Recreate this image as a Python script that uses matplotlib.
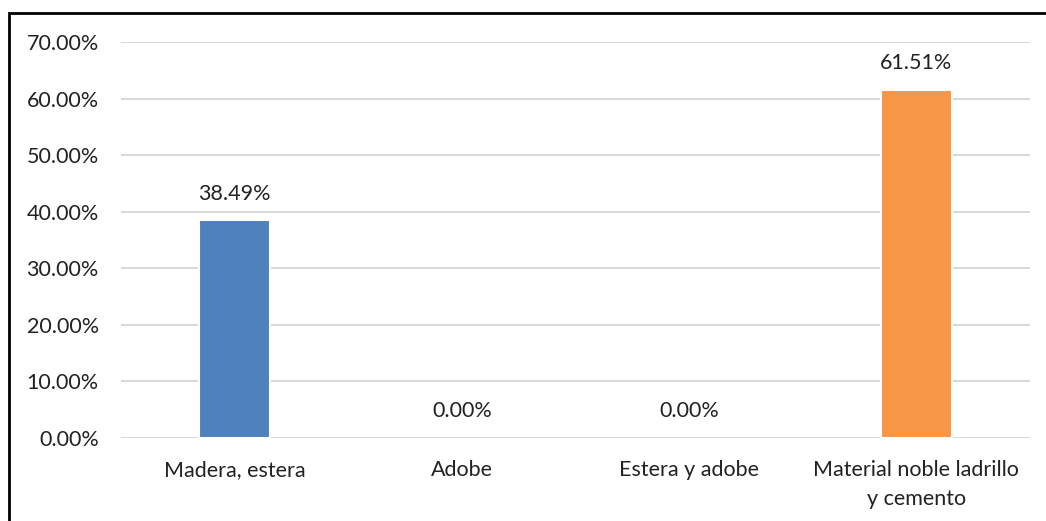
import matplotlib.pyplot as plt
from matplotlib.patches import Rectangle
from matplotlib.ticker import FuncFormatter

categorias = ["Madera, estera", "Adobe", "Estera y adobe", "Material noble ladrillo\ny cemento"]
porcentajes = [38.49, 0.00, 0.00, 61.51]
colores = ["#4F81BD", "#4F81BD", "#4F81BD", "#F79646"]

plt.rcParams['font.family'] = ['Lato', 'DejaVu Sans']

fig = plt.figure(figsize=(10.46, 5.21), dpi=100)
ax = fig.add_axes([121 / 1046, 1 - 438 / 521, (1030 - 121) / 1046, (438 - 42) / 521])

x = range(len(categorias))
bars = ax.bar(x, porcentajes, width=0.31, color=colores, edgecolor="white", zorder=3)
for b, v in zip(bars, porcentajes):
    b.set_linewidth(1.5 if v > 0 else 0)
    ax.annotate(f"{v:.2f}%", (b.get_x() + b.get_width() / 2, v), xytext=(0, 12),
                textcoords="offset points", ha="center", va="bottom", fontsize=15.5, color="#222222")

ax.set_ylim(0, 70)
ax.set_xlim(-0.5, 3.5)
ax.set_yticks(range(0, 71, 10))
ax.yaxis.set_major_formatter(FuncFormatter(lambda v, p: f"{v:.2f}%"))
ax.set_xticks(list(x))
ax.set_xticklabels(categorias, linespacing=1.55)
ax.grid(axis="y", color="#D9D9D9", linewidth=1.5, zorder=0)
ax.tick_params(length=0, labelsize=15.5, colors="#222222")
ax.tick_params(axis="y", pad=16)
ax.tick_params(axis="x", pad=16)
for s in ax.spines.values():
    s.set_visible(False)

# marco del gráfico
fig.patches.append(Rectangle((9 / 1046, -0.01), 1.1, 1 - 13 / 521 + 0.01, transform=fig.transFigure,
                             fill=False, edgecolor="black", linewidth=2))

fig.savefig("out.png", dpi=100)
